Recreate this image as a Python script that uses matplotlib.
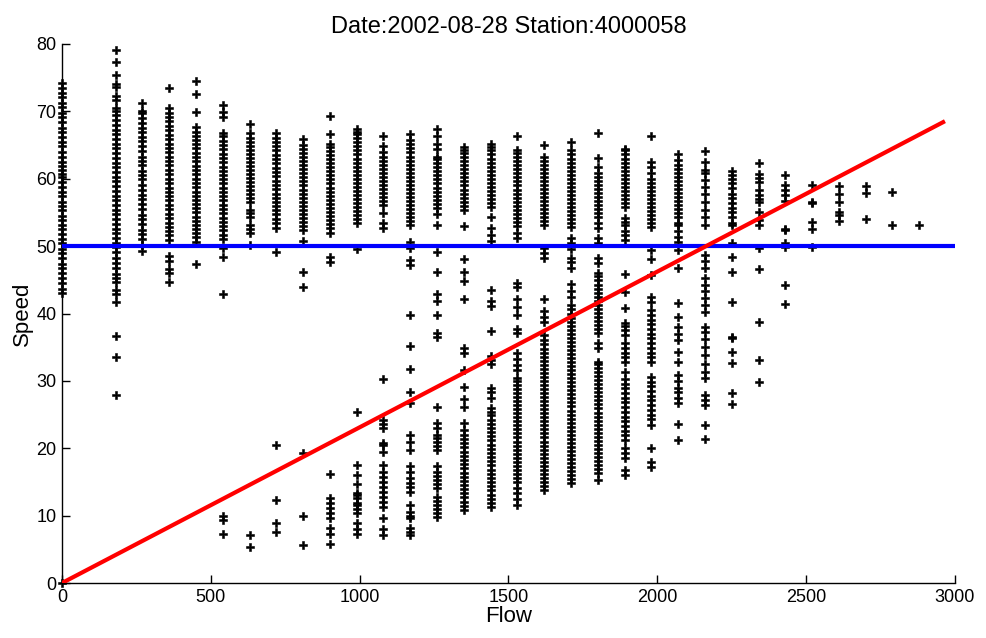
import matplotlib
matplotlib.use('Agg')
import matplotlib.pyplot as plt

# flow columns (veh/h) and the speeds seen in each column
flow_cols = [0, 180, 270, 360, 450, 540, 630, 720, 810, 900, 990, 1080, 1170,
             1260, 1350, 1440, 1530, 1620, 1710, 1800, 1890, 1980, 2070, 2160,
             2250, 2340, 2430, 2520, 2610, 2700, 2790, 2880]

speed_cols = [
    # 0
    [0, 43.0, 43.6, 44.5, 45.3, 46.0, 46.8, 47.3, 48.2, 49.0, 49.6, 50.4, 51.1, 51.8, 52.5,
     53.2, 53.9, 54.5, 55.3, 56.0, 56.6, 57.4, 58.1, 58.8, 59.5, 60.2, 60.7, 61.3, 61.9,
     62.5, 63.3, 64.0, 64.8, 65.5, 66.2, 67.0, 67.6, 68.4, 69.1, 69.8, 70.6, 71.3, 72.1,
     72.8, 73.5, 74.2],
    # 180
    [27.9, 33.5, 36.7, 41.7, 42.9, 43.5, 44.7, 45.3, 45.9, 46.7, 47.5, 48.3, 49.1, 49.8,
     50.5, 51.2, 51.9, 52.6, 53.3, 54.0, 54.7, 55.4, 56.1, 56.8, 57.5, 58.2, 58.9, 59.6,
     60.3, 61.0, 61.7, 62.4, 63.1, 63.8, 64.5, 65.2, 65.9, 66.6, 67.3, 68.0, 68.7, 69.4,
     70.1, 70.5, 71.7, 72.3, 73.6, 74.0, 75.4, 77.3, 79.1],
    # 270
    [49.3, 50.2, 51.0, 51.8, 52.4, 53.3, 54.0, 54.6, 55.5, 56.2, 57.0, 57.6, 58.3, 59.1,
     59.9, 60.5, 61.2, 62.0, 62.7, 63.3, 64.1, 64.8, 65.6, 66.2, 67.0, 67.5, 68.3, 69.0,
     69.7, 70.1, 71.2],
    # 360
    [44.7, 46.0, 46.6, 47.8, 48.5, 50.9, 51.6, 52.3, 52.9, 53.5, 54.2, 54.8, 55.5, 56.1,
     56.8, 57.4, 58.1, 58.7, 59.4, 60.0, 60.7, 61.3, 62.0, 62.6, 63.3, 63.9, 64.6, 65.2,
     65.9, 66.5, 67.2, 67.8, 68.5, 69.1, 69.8, 70.5, 73.5],
    # 450
    [47.3, 50.6, 51.3, 52.0, 52.6, 53.1, 53.7, 54.3, 55.0, 55.6, 56.2, 56.9, 57.5, 58.1,
     58.8, 59.4, 60.0, 60.7, 61.3, 61.9, 62.6, 63.2, 63.8, 64.5, 65.1, 65.7, 66.4, 67.0,
     67.7, 69.9, 72.6, 74.5],
    # 540
    [7.3, 9.4, 10.0, 42.9, 48.4, 49.7, 51.0, 51.7, 52.4, 53.0, 53.6, 54.2, 54.9, 55.5,
     56.1, 56.8, 57.4, 58.0, 58.7, 59.3, 59.9, 60.6, 61.2, 61.8, 62.5, 63.1, 63.7, 64.4,
     65.0, 65.6, 66.3, 66.8, 69.2, 69.9, 70.9],
    # 630
    [5.3, 7.1, 50.2, 52.0, 52.6, 53.1, 54.3, 54.9, 55.4, 56.5, 57.1, 57.7, 58.3, 58.9,
     59.5, 60.1, 60.7, 61.3, 61.9, 62.5, 63.1, 63.7, 64.3, 64.9, 65.5, 66.1, 66.8, 68.1],
    # 720
    [7.6, 8.9, 12.3, 20.5, 49.1, 52.7, 53.4, 54.0, 54.7, 55.3, 55.9, 56.6, 57.2, 57.8,
     58.5, 59.1, 59.7, 60.4, 61.0, 61.6, 62.3, 62.9, 63.5, 64.2, 64.8, 65.4, 66.1, 66.8],
    # 810
    [5.6, 9.9, 19.3, 43.9, 46.2, 50.8, 52.4, 53.0, 53.6, 54.2, 54.8, 55.4, 56.0, 56.6,
     57.2, 57.8, 58.4, 59.0, 59.6, 60.2, 60.8, 61.4, 62.0, 62.6, 63.2, 63.8, 64.4, 65.0,
     65.9],
    # 900
    [5.8, 7.3, 8.2, 9.6, 10.4, 11.2, 11.8, 12.6, 16.2, 47.6, 48.4, 52.0, 52.7, 53.3, 53.9,
     54.5, 55.1, 55.7, 56.3, 56.9, 57.5, 58.1, 58.7, 59.3, 59.9, 60.5, 61.1, 61.7, 62.3,
     62.9, 63.5, 64.1, 64.7, 65.2, 66.6, 69.3],
    # 990
    [7.3, 8.0, 8.9, 10.4, 11.0, 11.6, 11.9, 12.6, 13.0, 13.4, 14.7, 16.0, 17.5, 25.4, 49.6,
     53.4, 54.0, 54.6, 55.2, 55.8, 56.4, 57.0, 57.6, 58.2, 58.8, 59.4, 60.0, 60.6, 61.2,
     61.8, 62.4, 63.0, 63.6, 64.2, 64.8, 65.4, 66.0, 66.6, 66.9, 67.4],
    # 1080
    [7.1, 8.0, 9.6, 11.3, 12.0, 12.8, 13.5, 14.3, 15.0, 15.8, 16.5, 17.5, 19.4, 20.5,
     20.8, 23.0, 23.6, 24.2, 30.3, 52.7, 53.4, 54.9, 56.1, 56.7, 57.3, 57.9, 58.5, 59.1,
     59.7, 60.3, 60.9, 61.5, 62.1, 62.7, 63.3, 64.0, 64.8, 66.3],
    # 1170
    [7.1, 7.6, 8.2, 9.6, 10.0, 10.5, 11.6, 13.5, 14.2, 14.9, 15.6, 16.5, 17.4, 19.7, 20.9,
     22.0, 26.7, 28.3, 31.8, 35.2, 39.8, 47.2, 48.0, 49.7, 50.6, 53.1, 53.7, 54.3, 54.9,
     55.5, 56.1, 56.7, 57.3, 57.9, 58.5, 59.1, 59.7, 60.3, 60.9, 61.5, 62.1, 62.7, 63.3,
     63.9, 64.5, 65.1, 65.7, 66.6],
    # 1260
    [9.8, 10.4, 11.0, 11.6, 12.2, 12.8, 14.1, 14.7, 15.3, 15.9, 16.5, 17.4, 19.7, 20.3,
     20.9, 21.5, 22.0, 23.0, 23.7, 26.1, 36.5, 37.1, 39.8, 41.9, 42.9, 46.2, 49.1, 53.1,
     54.8, 55.7, 56.3, 56.9, 57.5, 58.1, 58.7, 59.3, 59.9, 60.5, 61.1, 61.7, 62.3, 62.9,
     63.2, 64.4, 65.2, 66.3, 67.4],
    # 1350
    [10.8, 11.4, 12.0, 12.7, 13.3, 13.9, 14.5, 15.2, 15.8, 16.4, 17.0, 17.7, 18.3, 18.9,
     19.5, 20.2, 20.8, 21.4, 22.0, 22.7, 23.7, 26.1, 27.3, 29.1, 31.6, 34.1, 34.9, 42.2,
     44.8, 46.2, 48.1, 53.0, 55.4, 56.0, 56.6, 57.2, 57.8, 58.4, 59.0, 59.6, 60.2, 60.8,
     61.4, 62.0, 62.6, 63.2, 63.8, 64.3, 64.7],
    # 1440
    [11.3, 11.9, 12.5, 13.1, 13.8, 14.4, 15.0, 15.6, 16.2, 16.8, 17.5, 18.1, 18.7, 19.3,
     19.9, 20.5, 21.2, 21.8, 22.4, 23.0, 23.6, 24.2, 24.9, 25.4, 26.0, 27.4, 28.3, 28.9,
     32.5, 33.1, 33.7, 37.4, 41.1, 41.9, 43.5, 50.8, 51.7, 52.7, 54.3, 55.8, 56.4, 57.0,
     57.6, 58.2, 58.8, 59.4, 60.0, 60.6, 61.2, 61.8, 62.4, 63.0, 63.6, 64.2, 64.7, 65.2],
    # 1530
    [11.6, 12.4, 13.3, 14.1, 15.0, 15.6, 16.2, 16.8, 17.4, 18.0, 18.6, 19.2, 19.8, 20.4,
     21.0, 21.6, 22.2, 22.8, 23.4, 24.0, 24.6, 25.2, 25.8, 26.4, 27.0, 27.6, 28.2, 28.8,
     29.4, 30.0, 30.4, 31.6, 32.4, 33.3, 34.1, 37.1, 37.7, 39.8, 41.0, 42.2, 43.9, 44.5,
     51.2, 52.0, 53.0, 53.6, 54.2, 54.8, 55.4, 56.0, 56.6, 57.2, 57.8, 58.4, 59.0, 59.6,
     60.2, 60.8, 61.4, 62.0, 62.6, 63.2, 63.8, 64.3, 66.3],
    # 1620
    [13.8, 14.4, 15.0, 15.6, 16.2, 16.8, 17.4, 18.0, 18.6, 19.2, 19.8, 20.4, 21.0, 21.6,
     22.2, 22.8, 23.4, 24.0, 24.6, 25.2, 25.8, 26.4, 27.0, 27.6, 28.2, 28.8, 29.4, 30.0,
     30.6, 31.2, 31.8, 32.4, 33.0, 33.6, 34.2, 34.8, 35.4, 36.0, 36.8, 38.7, 39.5, 40.4,
     42.2, 48.2, 49.0, 49.7, 53.1, 53.7, 54.3, 54.9, 55.5, 56.1, 56.7, 57.3, 57.9, 58.5,
     59.1, 59.7, 60.3, 60.9, 61.5, 62.1, 62.7, 63.2, 65.0],
    # 1710
    [14.8, 15.4, 16.0, 16.6, 17.2, 17.8, 18.4, 19.0, 19.6, 20.2, 20.8, 21.4, 22.0, 22.6,
     23.2, 23.8, 24.4, 25.0, 25.6, 26.2, 26.8, 27.4, 28.0, 28.6, 29.2, 29.8, 30.4, 31.0,
     31.6, 32.2, 32.8, 33.4, 34.0, 34.6, 35.2, 35.8, 36.4, 37.0, 37.6, 38.2, 38.8, 39.4,
     40.0, 40.6, 41.3, 42.4, 43.4, 44.4, 46.7, 47.6, 48.3, 49.6, 50.5, 51.2, 52.8, 53.4,
     54.0, 54.6, 55.2, 55.8, 56.4, 57.0, 57.6, 58.2, 58.8, 59.4, 60.0, 60.6, 61.2, 61.8,
     62.4, 63.0, 63.6, 64.3, 65.5],
    # 1800
    [15.3, 16.3, 16.9, 17.5, 18.1, 18.7, 19.3, 19.9, 20.5, 21.1, 21.7, 22.3, 22.9, 23.5,
     24.1, 24.7, 25.3, 25.9, 26.5, 27.1, 27.7, 28.3, 28.9, 29.5, 30.1, 30.7, 31.3, 31.9,
     32.5, 32.8, 34.9, 35.6, 37.1, 37.7, 38.3, 38.9, 39.5, 40.1, 40.7, 41.3, 41.9, 42.5,
     43.1, 43.7, 44.3, 44.9, 45.5, 46.0, 47.5, 48.2, 50.5, 51.2, 52.7, 53.4, 54.3, 54.9,
     55.5, 56.1, 56.7, 57.3, 57.9, 58.5, 59.1, 59.7, 60.3, 60.9, 61.7, 63.1, 66.8],
    # 1890
    [16.0, 16.8, 18.6, 19.3, 20.0, 21.2, 21.9, 22.6, 23.3, 24.0, 24.7, 25.4, 26.1, 26.8,
     27.5, 28.2, 28.9, 29.6, 30.3, 31.3, 32.8, 33.5, 34.2, 34.9, 35.6, 36.8, 37.5, 38.1,
     38.6, 40.8, 43.2, 45.9, 50.9, 51.6, 52.3, 53.1, 53.6, 54.2, 55.8, 56.4, 57.0, 57.6,
     58.2, 58.8, 59.4, 60.0, 60.6, 61.2, 61.8, 62.4, 63.0, 63.6, 64.3, 64.4],
    # 1980
    [17.2, 18.0, 20.0, 23.5, 24.3, 24.9, 25.7, 26.4, 27.1, 27.8, 28.5, 29.2, 29.9, 30.6,
     32.8, 33.5, 34.2, 34.9, 35.6, 36.3, 37.0, 37.7, 38.4, 39.1, 39.8, 40.5, 41.7, 42.4,
     45.7, 48.1, 49.4, 52.8, 53.4, 54.0, 54.6, 55.2, 55.8, 56.4, 57.0, 57.6, 58.2, 58.8,
     59.4, 60.0, 60.8, 61.7, 62.5, 66.3],
    # 2070
    [21.2, 23.6, 26.7, 27.5, 28.3, 29.0, 30.0, 30.9, 32.8, 34.3, 36.1, 37.0, 38.0, 39.5,
     41.6, 46.8, 49.4, 50.6, 51.4, 52.2, 53.1, 53.4, 54.3, 54.9, 55.5, 56.1, 56.7, 57.3,
     57.9, 58.5, 59.1, 59.7, 60.3, 60.9, 61.5, 62.1, 62.8, 63.7],
    # 2160
    [21.4, 23.5, 26.4, 27.2, 27.9, 30.4, 31.3, 32.5, 33.8, 35.0, 36.2, 37.3, 38.0, 40.2,
     41.2, 42.3, 43.4, 44.3, 45.3, 46.8, 47.8, 48.7, 53.1, 54.3, 55.4, 56.6, 57.7, 58.8,
     59.8, 60.8, 61.3, 62.5, 64.1],
    # 2250
    [26.6, 28.2, 32.7, 34.3, 36.4, 36.5, 41.7, 46.2, 48.4, 50.5, 53.1, 53.4, 54.3, 55.0,
     55.7, 56.4, 57.1, 57.8, 58.6, 59.3, 60.0, 60.6, 61.2],
    # 2340
    [29.8, 33.1, 38.7, 46.6, 49.7, 53.1, 53.9, 55.1, 56.5, 57.0, 57.6, 58.3, 59.5, 60.1,
     60.7, 62.3],
    # 2430
    [41.4, 44.2, 49.9, 50.5, 52.4, 52.5, 56.7, 57.6, 58.3, 59.1, 60.6],
    # 2520
    [49.9, 52.5, 53.6, 56.4, 56.5, 59.1],
    # 2610
    [53.7, 54.6, 55.1, 56.5, 57.7, 58.9],
    # 2700
    [54.0, 57.9, 58.9],
    # 2790
    [53.1, 58.0],
    # 2880
    [53.1],
]

# reference lines
critical_speed = 50
fit_flow = [0, 2960]
fit_speed = [0, 68.4]

flows = []
speeds = []
for f, col in zip(flow_cols, speed_cols):
    flows += [f] * len(col)
    speeds += col

plt.rcParams['font.family'] = ['Liberation Sans', 'DejaVu Sans']
fig = plt.figure(figsize=(9.86, 6.38), dpi=100)
ax = fig.add_axes([62 / 986, 55 / 638, 893 / 986, 539 / 638])

ax.plot(flows, speeds, 'kP', markersize=5.5, markeredgewidth=0.4, linestyle='none',
        clip_on=False, zorder=3)
ax.plot([0, 3000], [critical_speed, critical_speed], color='#0000ff', linewidth=3,
        zorder=4)
ax.plot(fit_flow, fit_speed, color='#ff0000', linewidth=3, zorder=4)

ax.set_xlim(0, 3000)
ax.set_ylim(0, 80)
ax.set_xticks(range(0, 3001, 500))
ax.set_yticks(range(0, 81, 10))
ax.tick_params(direction='in', length=6, width=1, labelsize=13, pad=4)
ax.spines['top'].set_visible(False)
ax.spines['right'].set_visible(False)
for s in ('left', 'bottom'):
    ax.spines[s].set_linewidth(1)

ax.set_xlabel('Flow', fontsize=16, labelpad=0)
ax.set_ylabel('Speed', fontsize=16, labelpad=2)
ax.set_title('Date:2002-08-28 Station:4000058', fontsize=17, pad=8)

fig.savefig('out.png', dpi=100)
